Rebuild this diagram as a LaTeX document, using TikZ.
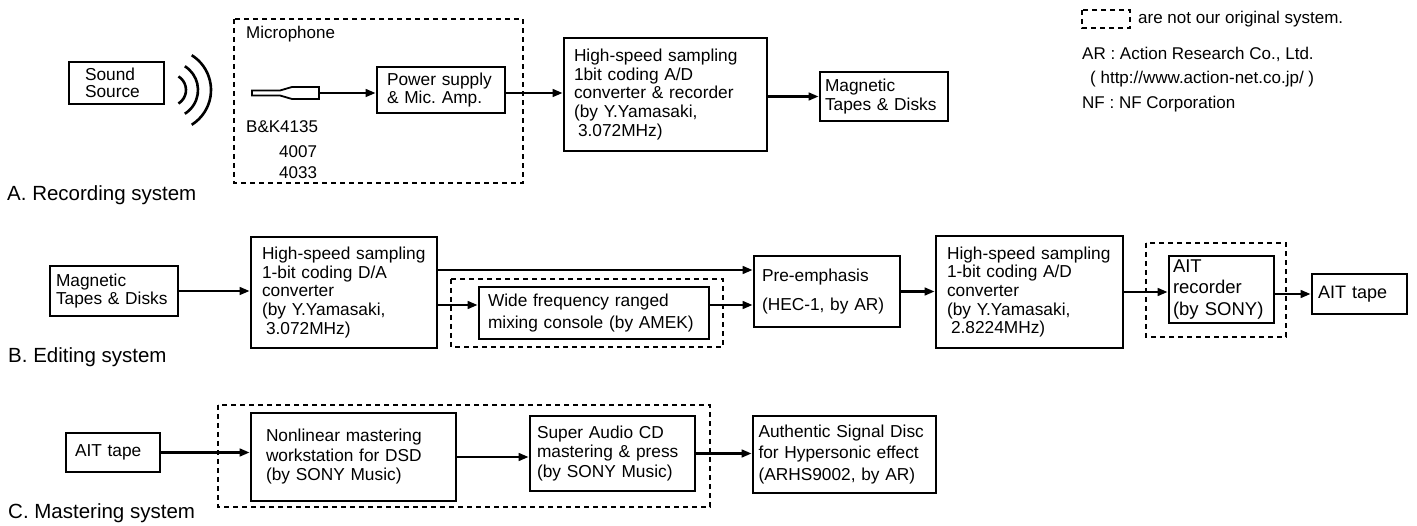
\documentclass[tikz,border=0pt]{standalone}
\usepackage{fontspec}
\setmainfont{Liberation Sans}
\usetikzlibrary{arrows.meta}

\begin{document}
\begin{tikzpicture}[x=1pt,y=-1pt,
	blk/.style={draw,line width=2.6pt,align=left,inner xsep=10pt,inner ysep=2pt,font=\fontsize{17.3}{18.7}\selectfont},
	notours/.style={line width=2.6pt,dash pattern=on 5pt off 4pt},
	flow/.style={line width=2.6pt,-{Triangle[length=10pt,width=7.5pt]}},
	sys/.style={anchor=west,inner sep=0pt,font=\fontsize{20.5}{22}\selectfont},
	note/.style={anchor=west,inner sep=0pt,font=\fontsize{17}{18}\selectfont}]
		\useasboundingbox (0,0) rectangle (1417,526);
		
		% A. Recording system
		\node[blk,inner xsep=16pt,text width=63pt,minimum height=42pt,font=\fontsize{17.3}{16.5}\selectfont] (src) at (116.5,83) {Sound\\Source};
		\coordinate (wave) at (170,90);
		\draw[line width=2.6pt] ([shift={(-58:16)}]wave) arc[start angle=-58,end angle=58,radius=16];
		\draw[line width=2.6pt] ([shift={(-58:28)}]wave) arc[start angle=-58,end angle=58,radius=28];
		\draw[line width=2.6pt] ([shift={(-58:41)}]wave) arc[start angle=-58,end angle=58,radius=41];
		
		\draw[notours] (234,19) rectangle (523,183);
		\node[note] (micname) at (246,34) {Microphone};
		\draw[line width=1.8pt] (252,90.5) -- (280,90.5) -- (292,87) -- (319,87) -- (319,99) -- (292,99) -- (280,95.5) -- (252,95.5) -- cycle;
		\coordinate (mic) at (319,93);
		\node[note] (bk) at (246,127) {B\&K4135};
		\node[note] (m4007) at (279,152) {4007};
		\node[note] (m4033) at (279,173) {4033};
		
		\node[blk,text width=108pt,minimum height=46pt] (psu) at (441,90) {Power supply\\\& Mic.\ Amp.};
		\node[blk,text width=183pt,minimum height=113pt] (adA) at (665.5,94.5) {High-speed sampling\\1bit coding A/D\\converter \& recorder\\(by Y.Yamasaki,\\\hspace*{4pt}3.072MHz)};
		\node[blk,inner xsep=5pt,text width=118pt,minimum height=49pt] (magA) at (884,96.5) {Magnetic\\Tapes \& Disks};
		
		\draw[flow] (mic) -- (mic -| psu.west);
		\draw[flow] (psu.east |- mic) -- (mic -| adA.west);
		\draw[flow] (adA.east |- magA.west) -- (magA.west);
		
		\node[sys] (recA) at (7,195) {A. Recording system};
		
		% legend
		\draw[notours] (1082,10) rectangle (1130,28);
		\node[note] (leg1) at (1138,19) {are not our original system.};
		\node[note] (leg2) at (1082,54) {AR : Action Research Co., Ltd.};
		\node[note] (leg3) at (1082,79) {\hspace*{8pt}( http://www.action-net.co.jp/ )};
		\node[note] (leg4) at (1082,104) {NF : NF Corporation};
		
		% B. Editing system
		\node[blk,inner xsep=6pt,text width=116pt,minimum height=50pt] (magB) at (114,291) {Magnetic\\Tapes \& Disks};
		\node[blk,inner xsep=11pt,text width=164pt,minimum height=111pt] (daB) at (344,292.5) {High-speed sampling\\1-bit coding D/A\\converter\\(by Y.Yamasaki,\\\hspace*{4pt}3.072MHz)};
		\draw[notours] (451,279) rectangle (723,347);
		\node[blk,inner xsep=9pt,text width=212pt,minimum height=52pt,font=\fontsize{17.3}{22}\selectfont] (wide) at (594,313) {Wide frequency ranged\\mixing console (by AMEK)};
		\node[blk,inner xsep=8pt,text width=130pt,minimum height=71pt] (pre) at (827,291.5) {Pre-emphasis\\[10pt](HEC-1, by AR)};
		\node[blk,inner xsep=11pt,text width=165pt,minimum height=112pt] (adB) at (1029.5,292) {High-speed sampling\\1-bit coding A/D\\converter\\(by Y.Yamasaki,\\\hspace*{4pt}2.8224MHz)};
		\draw[notours] (1146,243) rectangle (1286,337);
		\node[blk,inner xsep=4pt,text width=97pt,minimum height=67pt,font=\fontsize{18.5}{21.5}\selectfont] (aitrec) at (1221.5,289.5) {AIT\\recorder\\(by SONY)};
		\node[blk,inner xsep=6pt,text width=83pt,minimum height=40pt,font=\fontsize{18}{20}\selectfont] (tapeB) at (1359.5,294) {AIT tape};
		
		\draw[flow] (magB.east) -- (magB.east -| daB.west);
		\draw[flow] ([yshift=22.5pt]daB.east) -- ([yshift=22.5pt]daB.east -| pre.west);
		\draw[flow] ([yshift=-12.5pt]daB.east) -- ([yshift=-12.5pt]daB.east -| wide.west);
		\draw[flow] ([yshift=8pt]wide.east) -- ([yshift=8pt]wide.east -| pre.west);
		\draw[flow] (pre.east) -- (pre.east -| adB.west);
		\draw[flow] (adB.east) -- (adB.east -| aitrec.west);
		\draw[flow] (aitrec.east |- tapeB.west) -- (tapeB.west);
		
		\node[sys] (ediB) at (8,357) {B. Editing system};
		
		% C. Mastering system
		\node[blk,inner xsep=9pt,text width=76pt,minimum height=39pt] (tapeC) at (113,452.5) {AIT tape};
		\draw[notours] (218,405) rectangle (710,507);
		\node[blk,inner xsep=15pt,text width=175pt,minimum height=88pt,font=\fontsize{17.3}{19.5}\selectfont] (nonlin) at (353.5,457) {Nonlinear mastering\\workstation for DSD\\(by SONY Music)};
		\node[blk,inner xsep=7pt,text width=151pt,minimum height=75pt,font=\fontsize{17.3}{19.5}\selectfont] (super) at (612.5,453.5) {Super Audio CD\\mastering \& press\\(by SONY Music)};
		\node[blk,inner xsep=5.5pt,text width=172pt,minimum height=77pt,font=\fontsize{17.3}{21.5}\selectfont] (auth) at (844.5,454.5) {Authentic Signal Disc\\for Hypersonic effect\\(ARHS9002, by AR)};
		
		\draw[flow] (tapeC.east) -- (tapeC.east -| nonlin.west);
		\draw[flow] (nonlin.east) -- (nonlin.east -| super.west);
		\draw[flow] (super.east) -- (super.east -| auth.west);
		
		\node[sys] (masC) at (8,513) {C. Mastering system};
	
	\end{tikzpicture}
\end{document}
